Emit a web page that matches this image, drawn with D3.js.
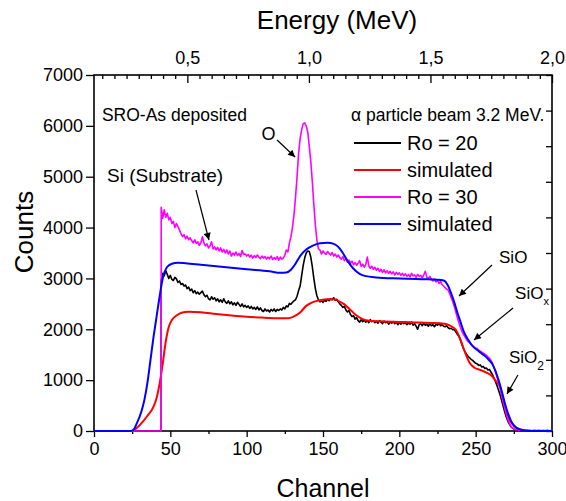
<!DOCTYPE html>
<html>
<head>
<meta charset="utf-8">
<script src="https://cdn.jsdelivr.net/npm/d3@7"></script>
<style>
  html,body{margin:0;padding:0;background:#fff;}
  svg{display:block;font-family:Arial,"Liberation Sans",sans-serif;}
</style>
</head>
<body>
<div id="chart"></div>
<script>
/* RBS spectra: SRO-As deposited */

// ticks
const channelTicks=[0,50,100,150,200,250,300];
const countTicks=[0,1000,2000,3000,4000,5000,6000,7000];
const energyTicks=[0.5,1.0,1.5,2.0];

// measured spectra, one value per channel starting at *Start
const ro20Start=44;
const ro20Counts=[
  2950,3100,3050,3150,3080,3000,3060,2980,2960,3020,
  2990,2920,2950,2880,2900,2850,2870,2800,2830,2760,
  2790,2720,2760,2700,2730,2690,2720,2750,2680,2640,
  2670,2600,2580,2640,2590,2620,2560,2600,2540,2580,
  2530,2600,2540,2510,2560,2500,2540,2480,2520,2470,
  2530,2490,2450,2500,2440,2470,2430,2460,2410,2450,
  2400,2430,2390,2440,2380,2420,2370,2350,2400,2360,
  2380,2340,2390,2360,2400,2350,2390,2370,2400,2380,
  2430,2400,2460,2440,2510,2490,2530,2560,2580,2650,
  2760,2850,3050,3250,3400,3500,3540,3530,3420,3230,
  3000,2800,2660,2580,2540,2560,2530,2570,2550,2590,
  2560,2600,2580,2620,2570,2590,2540,2500,2470,2430,
  2450,2380,2340,2370,2290,2250,2270,2200,2230,2170,
  2140,2190,2150,2180,2140,2170,2130,2190,2150,2170,
  2130,2160,2120,2170,2140,2110,2160,2130,2150,2100,
  2140,2120,2150,2110,2140,2090,2130,2100,2140,2110,
  2130,2090,2120,2100,2140,2080,2110,2060,2000,2090,
  2110,2070,2120,2080,2100,2060,2110,2070,2090,2050,
  2100,2080,2120,2070,2090,2060,2050,2070,2030,2010,
  2020,1990,1990,1950,1900,1860,1790,1700,1620,1560,
  1510,1470,1440,1410,1390,1360,1330,1320,1290,1300,
  1260,1270,1230,1240,1200,1210,1160,1110,1040,970,
  890,800,710,600,490,380,280,200,140,90,
  60,40,28,20,14,10,12,8,10,6,
  8,10,6,4,8,6,4,6,8,4,
  6,4,6,8,4,6,4
];
const ro30Start=44;
const ro30Counts=[
  4400,4180,4350,4200,4280,4150,4200,4080,4120,4000,
  4080,4020,3950,3880,3820,3860,3780,3830,3760,3800,
  3740,3700,3760,3690,3720,3650,3700,3820,3700,3640,
  3680,3600,3640,3720,3580,3620,3560,3610,3540,3600,
  3520,3570,3500,3560,3480,3540,3440,3500,3460,3520,
  3450,3490,3430,3550,3470,3480,3440,3470,3420,3460,
  3400,3450,3410,3460,3420,3390,3440,3400,3430,3380,
  3420,3390,3440,3370,3410,3380,3430,3360,3420,3380,
  3400,3460,3560,3520,3700,3820,4000,4250,4600,5000,
  5450,5750,5920,6040,6060,6000,5880,5600,5300,4900,
  4450,4050,3750,3580,3560,3480,3540,3500,3470,3530,
  3490,3460,3510,3440,3480,3420,3460,3410,3380,3430,
  3350,3390,3320,3360,3300,3340,3270,3310,3260,3300,
  3350,3240,3280,3220,3270,3420,3250,3200,3240,3180,
  3220,3160,3200,3140,3180,3120,3170,3110,3150,3100,
  3140,3090,3130,3070,3120,3080,3110,3060,3100,3050,
  3090,3040,3080,3030,3100,3050,3070,3020,3080,3040,
  3060,3010,3070,3140,3020,3000,3040,2980,2950,2990,
  2930,2960,2900,2940,2880,2850,2820,2790,2770,2700,
  2620,2540,2450,2340,2230,2130,2040,1960,1900,1850,
  1800,1760,1740,1700,1680,1650,1630,1620,1590,1570,
  1550,1530,1510,1490,1460,1430,1390,1330,1250,1160,
  1060,960,850,720,590,460,340,240,160,100,
  65,45,30,24,18,14,20,12,15,10,
  14,8,12,6,10,14,8,12,10,6,
  12,8,10,14,6,10,8
];

// simulated spectra
const simRo20Channels=[0,25,28,32,35,39,41,43,45,47,49,51,54,58,62,70,80,90,100,110,
  120,126,130,135,139,143,148,153,157,160,164,168,172,176,180,190,200,210,220,228,
  231,234,237,240,242,244,246,249,253,257,261,263,266,268,270,272,274,276,278,281,285,300];
const simRo20Counts=[0,0,60,183,300,480,650,937,1320,1760,2050,2182,2270,2330,2345,2335,2300,2270,2245,2230,
  2218,2215,2240,2330,2460,2530,2570,2590,2590,2560,2490,2380,2270,2200,2170,2155,2145,2135,2125,2115,
  2100,2060,1990,1800,1630,1470,1340,1250,1200,1150,1070,990,860,600,380,230,140,80,45,20,0,0];
const simRo30Channels=[0,24,26,28,31,33,35,37,39,41,43,45,48,51,55,60,70,80,100,115,
  122,126,129,132,135,139,143,148,153,157,160,163,166,170,174,178,185,200,215,225,
  229,232,234,236,238,240,242,245,248,252,255,258,261,263,265,267,269,271,273,275,
  277,279,282,285,300];
const simRo30Counts=[0,0,30,150,380,610,950,1400,1850,2250,2650,3000,3230,3290,3310,3300,3270,3240,3180,3140,
  3110,3115,3170,3290,3440,3570,3640,3690,3700,3680,3620,3500,3350,3190,3090,3045,3020,3000,2985,2975,
  2960,2850,2700,2530,2330,2150,1970,1800,1670,1570,1500,1420,1310,1180,1000,790,560,360,210,110,
  55,30,10,0,0];

const legendItems=[
  {label:'Ro = 20',color:'#000000'},
  {label:'simulated',color:'#ff0000'},
  {label:'Ro = 30',color:'#ff00ff'},
  {label:'simulated',color:'#0000ff'}
];

// build series
function measured(start,counts){
  const pts=[[0,0],[start,0]];
  counts.forEach((c,i)=>pts.push([start+i,c]));
  return pts;
}
function simulated(chs,counts){return chs.map((c,i)=>[c,counts[i]]);}

const W=566,H=501;
const m={top:75,right:14,bottom:70,left:94};
const iw=W-m.left-m.right, ih=H-m.top-m.bottom;

const x=d3.scaleLinear().domain([0,300]).range([0,iw]);
const y=d3.scaleLinear().domain([0,7000]).range([ih,0]);
const xTop=d3.scaleLinear().domain([0.116,2.0]).range([0,iw]);
const yRight=d3.scaleLinear().domain([0,10]).range([ih,0]);

const svg=d3.select('#chart').append('svg').attr('width',W).attr('height',H);
const defs=svg.append('defs');
defs.append('marker').attr('id','arr').attr('viewBox','0 0 10 10')
  .attr('refX',10).attr('refY',5).attr('markerWidth',9).attr('markerHeight',7)
  .attr('markerUnits','userSpaceOnUse').attr('orient','auto')
  .append('path').attr('d','M0,0L10,5L0,10z').attr('fill','#000');

const g=svg.append('g').attr('transform',`translate(${m.left},${m.top})`);

// axes
const fmtE=d=>d3.format('.1f')(d).replace('.',',');
const axisFont=sel=>sel.selectAll('text').attr('fill','#000').style('font-size','18px');

g.append('g').attr('transform',`translate(0,${ih})`)
  .call(d3.axisBottom(x).tickValues(d3.range(25,300,50)).tickSize(3).tickFormat(''));
g.append('g').attr('transform',`translate(0,${ih})`)
  .call(d3.axisBottom(x).tickValues(channelTicks).tickSize(6).tickPadding(5).tickFormat(d3.format('d')))
  .call(axisFont);
g.append('g').call(d3.axisLeft(y).tickValues(countTicks).tickSize(8).tickPadding(3).tickFormat(d3.format('d')))
  .call(axisFont);
g.append('g').call(d3.axisTop(xTop).tickValues(d3.range(0.15,2.0,0.05).filter(v=>Math.abs(v*2-Math.round(v*2))>0.01))
  .tickSize(-4).tickFormat(''));
g.append('g').call(d3.axisTop(xTop).tickValues(energyTicks).tickSize(-8).tickPadding(11).tickFormat(fmtE))
  .call(axisFont);
g.append('g').attr('transform',`translate(${iw},0)`)
  .call(d3.axisRight(yRight).ticks(10).tickSize(-6).tickFormat(''));
g.selectAll('.domain').remove();
g.selectAll('.tick line').attr('stroke','#000').attr('stroke-width',1.3);

// frame
g.append('rect').attr('width',iw).attr('height',ih)
  .attr('fill','none').attr('stroke','#000').attr('stroke-width',1.6);

// curves
const lineLin=d3.line().x(d=>x(d[0])).y(d=>y(d[1]));
const lineSmooth=d3.line().x(d=>x(d[0])).y(d=>y(d[1])).curve(d3.curveMonotoneX);
const series=[
  {pts:measured(ro20Start,ro20Counts),color:'#000000',w:1.6,gen:lineLin},
  {pts:simulated(simRo20Channels,simRo20Counts),color:'#ff0000',w:2,gen:lineSmooth},
  {pts:measured(ro30Start,ro30Counts),color:'#ff00ff',w:1.6,gen:lineLin},
  {pts:simulated(simRo30Channels,simRo30Counts),color:'#0000ff',w:2,gen:lineSmooth}
];
series.forEach(s=>{
  g.append('path').datum(s.pts).attr('d',s.gen)
    .attr('fill','none').attr('stroke',s.color).attr('stroke-width',s.w)
    .attr('stroke-linejoin','round');
});

// legend
const lg=g.append('g').attr('transform','translate(260,68)');
legendItems.forEach((d,i)=>{
  const row=lg.append('g').attr('transform',`translate(0,${i*27})`);
  row.append('line').attr('x1',0).attr('x2',47).attr('stroke',d.color).attr('stroke-width',2);
  row.append('text').attr('x',53).attr('dy','0.36em').style('font-size','20px').attr('fill','#000').text(d.label);
});

// annotations (data coordinates)
const txt=(ch,c,s,size,anchor)=>g.append('text').attr('x',x(ch)).attr('y',y(c))
  .attr('text-anchor',anchor||'start').style('font-size',size+'px').attr('fill','#000').text(s);
const arrow=(a,b)=>g.append('line').attr('x1',x(a[0])).attr('y1',y(a[1]))
  .attr('x2',x(b[0])).attr('y2',y(b[1])).attr('stroke','#000').attr('stroke-width',1.2)
  .attr('marker-end','url(#arr)');

txt(5.2,6100,'SRO-As deposited',17.5);
txt(295,6100,'\u03b1 particle beam 3.2 MeV.',17.5,'end');
txt(114.3,5722,'O',18,'middle');
arrow([119.9,5722],[131.7,5388]);
txt(8.5,4896,'Si (Substrate)',19);
arrow([66.8,4739],[75.3,3756]);
txt(265.3,3303,'SiO',17);
arrow([260.7,3264],[239.1,2654]);
const t1=txt(275.8,2595,'SiO',17);
t1.append('tspan').attr('dy',6).style('font-size','11px').text('x');
arrow([274.5,2419],[248.9,1789]);
const t2=txt(271.8,1337,'SiO',17);
t2.append('tspan').attr('dy',7).style('font-size','12px').text('2');
arrow([277.7,1101],[270.5,728]);

// axis titles
svg.append('text').attr('x',337).attr('y',29).attr('text-anchor','middle')
  .style('font-size','26px').text('Energy (MeV)');
svg.append('text').attr('x',m.left+iw/2).attr('y',497).attr('text-anchor','middle')
  .style('font-size','25px').text('Channel');
svg.append('text').attr('transform','translate(33,232) rotate(-90)').attr('text-anchor','middle')
  .style('font-size','26px').text('Counts');
</script>
</body>
</html>
